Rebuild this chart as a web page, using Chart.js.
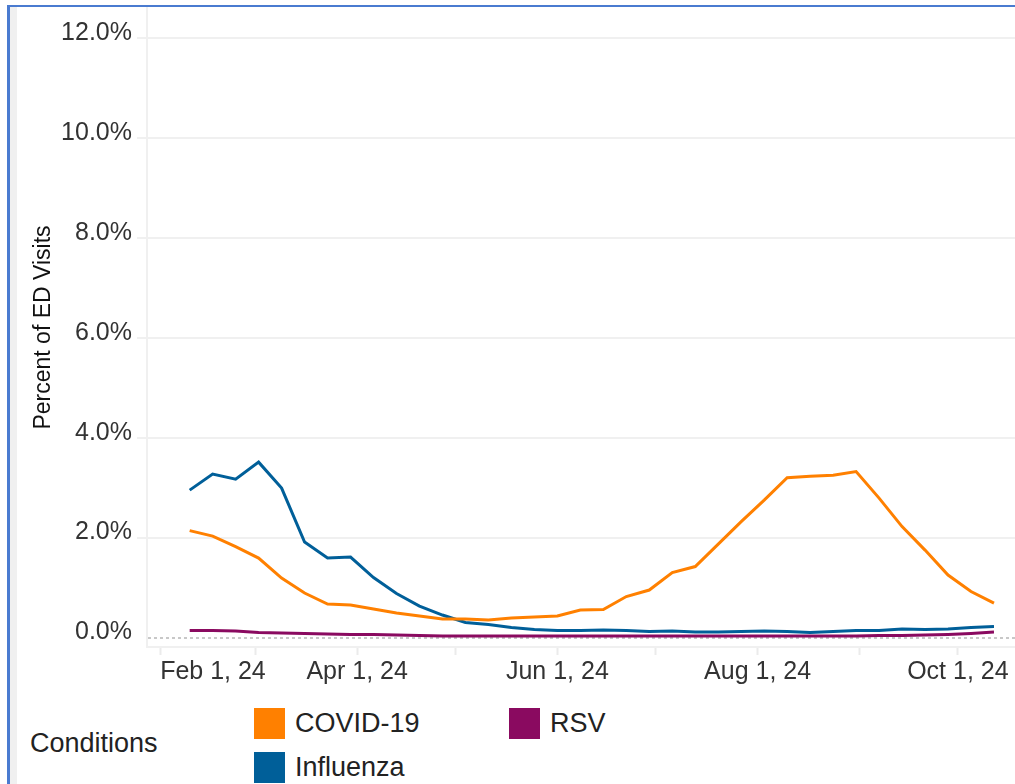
<!DOCTYPE html>
<html>
<head>
<meta charset="utf-8">
<title>Percent of ED Visits</title>
<script src="https://cdn.jsdelivr.net/npm/chart.js@4.4.0/dist/chart.umd.min.js"></script>
<style>
    body { margin: 0; background: #fff; font-family: "Liberation Sans", Arial, sans-serif; }
    #frame { position: absolute; left: 7px; top: 5px; width: 1008px; height: 779px;
             border-left: 3px solid #4a7bd0; border-top: 2px solid #4a7bd0; }
    #strip { position: absolute; left: 10px; top: 7px; width: 7px; height: 777px; background: #f0f0f0; }
    #wrap { position: absolute; left: 0; top: 0; width: 1015px; height: 692px; }
    #condTitle { position: absolute; left: 30px; top: 727px; font-size: 27px; color: #222; line-height: 32px; }
    #legend { position: absolute; left: 254px; top: 708px; display: grid;
              grid-template-rows: 44px 44px; grid-template-columns: 255px auto; grid-auto-flow: column; }
    .item { display: flex; align-items: flex-start; font-size: 27px; color: #222; }
    .swatch { width: 31px; height: 31px; margin-right: 10px; }
    .item span { line-height: 31px; }
</style>
</head>
<body>
<div id="frame"></div>
<div id="strip"></div>
<div id="wrap"><canvas id="edChart"></canvas></div>
<div id="condTitle">Conditions</div>
<div id="legend"></div>

<script>
// weeks ending (Saturday)
const weeks = [
    '2024-02-10', '2024-02-17', '2024-02-24', '2024-03-02', '2024-03-09', '2024-03-16',
    '2024-03-23', '2024-03-30', '2024-04-06', '2024-04-13', '2024-04-20', '2024-04-27',
    '2024-05-04', '2024-05-11', '2024-05-18', '2024-05-25', '2024-06-01', '2024-06-08',
    '2024-06-15', '2024-06-22', '2024-06-29', '2024-07-06', '2024-07-13', '2024-07-20',
    '2024-07-27', '2024-08-03', '2024-08-10', '2024-08-17', '2024-08-24', '2024-08-31',
    '2024-09-07', '2024-09-14', '2024-09-21', '2024-09-28', '2024-10-05', '2024-10-12'
];

const covid = [
    2.14, 2.03, 1.82, 1.59, 1.19, 0.89, 0.67, 0.65, 0.57, 0.49, 0.43, 0.37,
    0.37, 0.35, 0.39, 0.41, 0.43, 0.55, 0.56, 0.82, 0.95, 1.30, 1.42, 1.87,
    2.32, 2.75, 3.20, 3.23, 3.25, 3.32, 2.79, 2.22, 1.75, 1.25, 0.92, 0.69
];
const influenza = [
    2.95, 3.27, 3.17, 3.51, 2.99, 1.91, 1.59, 1.61, 1.20, 0.88, 0.63, 0.45,
    0.30, 0.26, 0.20, 0.16, 0.14, 0.14, 0.15, 0.14, 0.12, 0.13, 0.11, 0.11,
    0.12, 0.13, 0.12, 0.10, 0.12, 0.14, 0.14, 0.17, 0.16, 0.17, 0.20, 0.22
];
const rsv = [
    0.14, 0.14, 0.13, 0.10, 0.09, 0.08, 0.07, 0.06, 0.06, 0.05, 0.04, 0.03,
    0.03, 0.03, 0.03, 0.03, 0.03, 0.03, 0.03, 0.03, 0.03, 0.03, 0.03, 0.03,
    0.03, 0.03, 0.03, 0.03, 0.03, 0.03, 0.04, 0.04, 0.05, 0.06, 0.08, 0.11
];

const seriesNames = ['COVID-19', 'Influenza', 'RSV'];
const seriesColors = ['#ff8000', '#005f99', '#8a0a60'];

// monthly tick marks, every other one labelled
const tickDates = [
    '2024-02-01', '2024-03-01', '2024-04-01', '2024-05-01', '2024-06-01',
    '2024-07-01', '2024-08-01', '2024-09-01', '2024-10-01'
];
const tickLabels = ['Feb 1, 24', '', 'Apr 1, 24', '', 'Jun 1, 24', '', 'Aug 1, 24', '', 'Oct 1, 24'];
const yTicks = [0, 2, 4, 6, 8, 10, 12];

const xStart = '2024-01-28';
const xEnd = '2024-10-18';

const dayOf = (s) => {
    const [y, m, d] = s.split('-').map(Number);
    return (Date.UTC(y, m - 1, d) - Date.UTC(2024, 1, 1)) / 86400000;
};

const toPoints = (vals) => vals.map((v, i) => ({ x: dayOf(weeks[i]), y: v }));

const gridGrey = '#f0f0f0';
const xMax = dayOf(xEnd) + 0.4;

const ctx = document.getElementById('edChart').getContext('2d');
const chart = new Chart(ctx, {
    type: 'line',
    data: {
        datasets: [
            { label: seriesNames[1], data: toPoints(influenza), borderColor: seriesColors[1], order: 2 },
            { label: seriesNames[2], data: toPoints(rsv), borderColor: seriesColors[2], order: 1 },
            { label: seriesNames[0], data: toPoints(covid), borderColor: seriesColors[0], order: 0 }
        ]
    },
    options: {
        responsive: true,
        maintainAspectRatio: false,
        animation: false,
        layout: { padding: { top: 8, left: 0, right: 0, bottom: 0 } },
        elements: {
            line: { borderWidth: 3, tension: 0 },
            point: { radius: 0 }
        },
        plugins: {
            legend: { display: false },
            tooltip: { enabled: false }
        },
        scales: {
            x: {
                type: 'linear',
                min: dayOf(xStart),
                max: xMax,
                afterBuildTicks: (scale) => {
                    scale.ticks = tickDates.map(d => ({ value: dayOf(d) }));
                    scale.ticks.push({ value: xMax });
                },
                afterFit: (scale) => {
                    scale.height = 45;
                    scale.paddingLeft = 0;
                    scale.paddingRight = 0;
                },
                ticks: {
                    autoSkip: false,
                    maxRotation: 0,
                    minRotation: 0,
                    align: 'inner',
                    padding: 2,
                    color: '#333',
                    font: { family: '"Liberation Sans", Arial, sans-serif', size: 25 },
                    callback: (v, i) => tickLabels[i] || ''
                },
                grid: {
                    drawOnChartArea: false,
                    tickLength: 8,
                    tickWidth: 2,
                    tickColor: (c) => (c.index < tickDates.length ? '#ebebeb' : 'rgba(0,0,0,0)')
                },
                border: { color: gridGrey, width: 2 }
            },
            y: {
                min: -0.19,
                max: 12.6,
                afterBuildTicks: (scale) => {
                    scale.ticks = yTicks.map(v => ({ value: v }));
                },
                afterFit: (scale) => {
                    scale.width = 147;
                    scale.paddingTop = 0;
                    scale.paddingBottom = 0;
                },
                ticks: {
                    padding: 5,
                    labelOffset: -5,
                    color: '#333',
                    font: { family: '"Liberation Sans", Arial, sans-serif', size: 25 },
                    callback: (v) => v.toFixed(1) + '%'
                },
                grid: {
                    tickLength: 10,
                    lineWidth: 2,
                    color: (c) => (c.tick && c.tick.value === 0 ? '#c8c8c8' : gridGrey),
                    tickColor: (c) => (c.tick && c.tick.value === 0 ? 'rgba(0,0,0,0)' : gridGrey)
                },
                border: {
                    color: gridGrey,
                    width: 2,
                    dash: (c) => (c.tick && c.tick.value === 0 ? [3, 3] : [])
                },
                title: {
                    display: true,
                    text: 'Percent of ED Visits',
                    color: '#111',
                    font: { family: '"Liberation Sans", Arial, sans-serif', size: 23 },
                    padding: { top: 30, bottom: 0 }
                }
            }
        }
    }
});

// legend laid out like the original: two rows, filled column by column
const legendEl = document.getElementById('legend');
seriesNames.forEach((name, i) => {
    const item = document.createElement('div');
    item.className = 'item';
    item.innerHTML = `<div class="swatch" style="background:${seriesColors[i]}"></div><span>${name}</span>`;
    legendEl.appendChild(item);
});
</script>
</body>
</html>
